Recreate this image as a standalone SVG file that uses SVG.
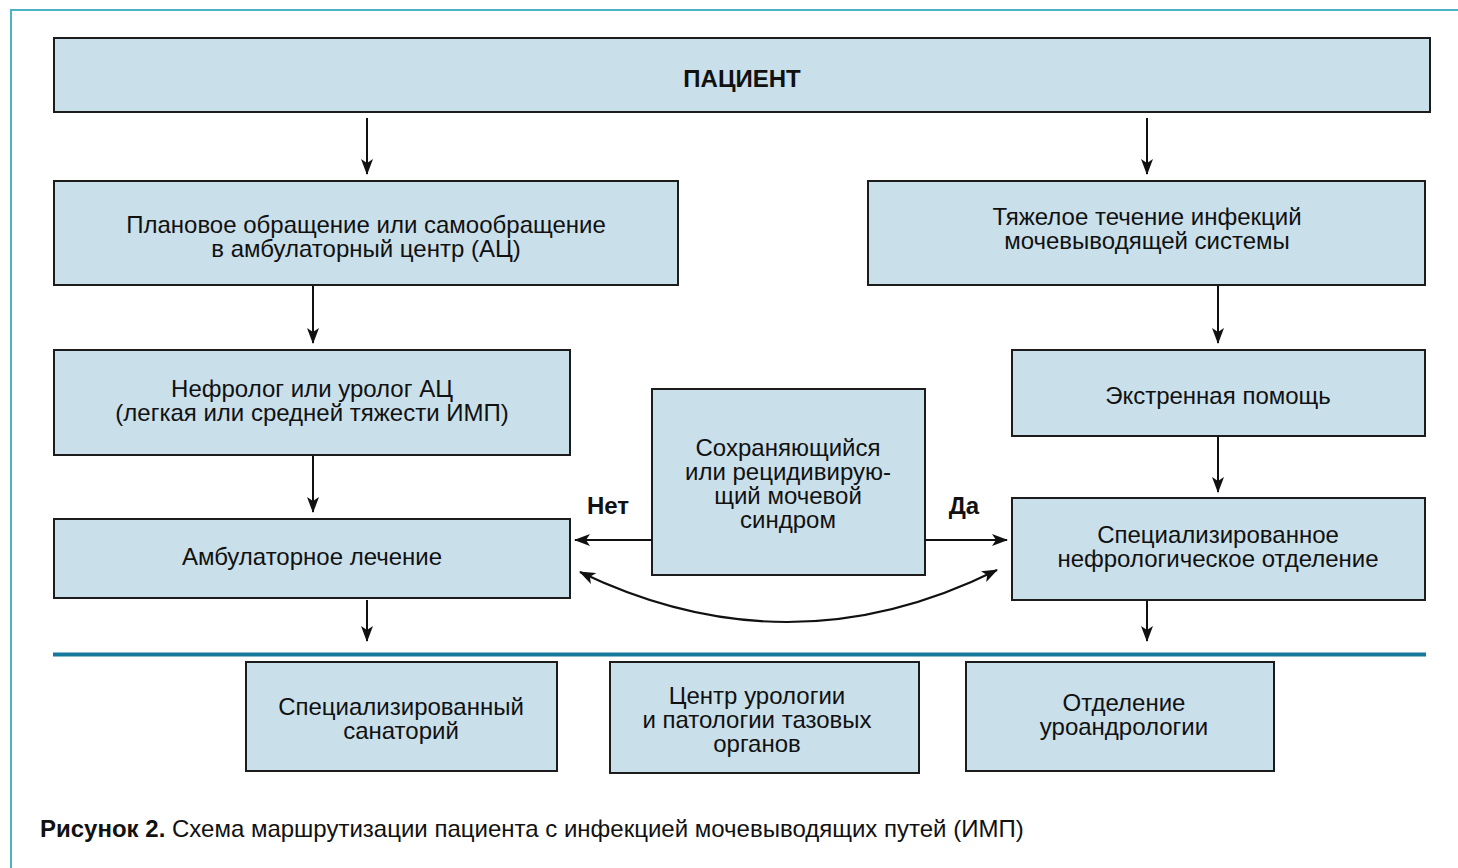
<svg xmlns="http://www.w3.org/2000/svg" width="1458" height="868" viewBox="0 0 1458 868">
<style>
.box{fill:#c9dfea;stroke:#1c1c1c;stroke-width:2}
.t{font-family:"Liberation Sans",Arial,sans-serif;font-size:24px;fill:#111;text-anchor:middle}
.b{font-weight:bold}
.c{fill:none;stroke:#111;stroke-width:2}
</style>
<defs>
<marker id="ah" viewBox="0 0 16 12" refX="15" refY="6" markerWidth="16" markerHeight="12" markerUnits="userSpaceOnUse" orient="auto-start-reverse">
<path d="M0,0 L16,6 L0,12 L4,6 Z" fill="#111"/>
</marker>
</defs>
<rect width="1458" height="868" fill="#fff"/>
<path d="M11,868 V10 H1458" fill="none" stroke="#4cb3c4" stroke-width="2"/>
<line x1="53" y1="654.5" x2="1426" y2="654.5" stroke="#16789c" stroke-width="4"/>

<g id="n-patient"><rect class="box" x="54" y="38" width="1376" height="74"/><text class="t b" x="742" y="87">ПАЦИЕНТ</text></g>
<g id="n-planned"><rect class="box" x="54" y="181" width="624" height="104"/><text class="t" x="366" y="233">Плановое обращение или самообращение</text><text class="t" x="366" y="257">в амбулаторный центр (АЦ)</text></g>
<g id="n-severe"><rect class="box" x="868" y="181" width="557" height="104"/><text class="t" x="1147" y="225">Тяжелое течение инфекций</text><text class="t" x="1147" y="249">мочевыводящей системы</text></g>
<g id="n-nephro"><rect class="box" x="54" y="350" width="516" height="105"/><text class="t" x="312" y="397">Нефролог или уролог АЦ</text><text class="t" x="312" y="421">(легкая или средней тяжести ИМП)</text></g>
<g id="n-emergency"><rect class="box" x="1012" y="350" width="413" height="86"/><text class="t" x="1218" y="404">Экстренная помощь</text></g>
<g id="n-persist"><rect class="box" x="652" y="389" width="273" height="186"/><text class="t" x="788" y="456">Сохраняющийся</text><text class="t" x="788" y="480">или рецидивирую-</text><text class="t" x="788" y="504">щий мочевой</text><text class="t" x="788" y="528">синдром</text></g>
<g id="n-ambul"><rect class="box" x="54" y="519" width="516" height="79"/><text class="t" x="312" y="565">Амбулаторное лечение</text></g>
<g id="n-specdept"><rect class="box" x="1012" y="498" width="413" height="102"/><text class="t" x="1218" y="543">Специализированное</text><text class="t" x="1218" y="567">нефрологическое отделение</text></g>
<g id="n-sanat"><rect class="box" x="246" y="662" width="311" height="109"/><text class="t" x="401" y="715">Специализированный</text><text class="t" x="401" y="739">санаторий</text></g>
<g id="n-urocenter"><rect class="box" x="610" y="662" width="309" height="111"/><text class="t" x="757" y="704">Центр урологии</text><text class="t" x="757" y="728">и патологии тазовых</text><text class="t" x="757" y="752">органов</text></g>
<g id="n-uroandro"><rect class="box" x="966" y="662" width="308" height="109"/><text class="t" x="1124" y="711">Отделение</text><text class="t" x="1124" y="735">уроандрологии</text></g>

<g id="connectors">
<line class="c" x1="367" y1="118" x2="367" y2="174" marker-end="url(#ah)"/>
<line class="c" x1="1147" y1="118" x2="1147" y2="174" marker-end="url(#ah)"/>
<line class="c" x1="313" y1="286" x2="313" y2="343" marker-end="url(#ah)"/>
<line class="c" x1="1218" y1="286" x2="1218" y2="343" marker-end="url(#ah)"/>
<line class="c" x1="313" y1="456" x2="313" y2="512" marker-end="url(#ah)"/>
<line class="c" x1="1218" y1="437" x2="1218" y2="492" marker-end="url(#ah)"/>
<line class="c" x1="367" y1="600" x2="367" y2="641" marker-end="url(#ah)"/>
<line class="c" x1="1147" y1="601" x2="1147" y2="641" marker-end="url(#ah)"/>
<line class="c" x1="652" y1="540" x2="575" y2="540" marker-end="url(#ah)"/>
<line class="c" x1="925" y1="540" x2="1007" y2="540" marker-end="url(#ah)"/>
<path class="c" d="M580,572 Q790,673 997,570" marker-start="url(#ah)" marker-end="url(#ah)"/>
<text class="t b" x="608" y="514">Нет</text>
<text class="t b" x="964" y="514">Да</text>
</g>

<text x="40" y="837" style="font-family:'Liberation Sans',Arial,sans-serif;font-size:24px;fill:#111"><tspan font-weight="bold">Рисунок 2.</tspan> Схема маршрутизации пациента с инфекцией мочевыводящих путей (ИМП)</text>
</svg>
